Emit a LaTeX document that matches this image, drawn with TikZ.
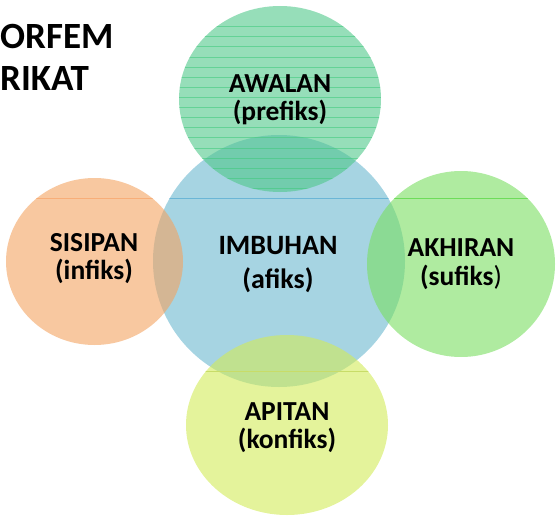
\documentclass[tikz,border=0pt]{standalone}
\usepackage{fontspec}
\setmainfont{Carlito}
\definecolor{cblue}{HTML}{A6D4E2}
\definecolor{cmint}{HTML}{50C88A}
\definecolor{cmintline}{HTML}{43CA7F}
\definecolor{cgreen}{HTML}{7ADE61}
\definecolor{corange}{HTML}{F3A361}
\definecolor{cyellow}{HTML}{D2EB58}
\definecolor{lblue}{HTML}{6BB6D6}
\definecolor{lgreen}{HTML}{6EDC5A}
\definecolor{lorange}{HTML}{F8AE78}
\definecolor{lyellow}{HTML}{C8DC68}
\tikzset{
  bubble/.style={fill opacity=0.6, draw=none},
  lbl/.style={align=center, inner sep=0pt, font=\fontsize{27.5}{28.5}\selectfont\bfseries},
  ttl/.style={anchor=base west, inner sep=0pt, font=\fontsize{37}{44}\selectfont\bfseries},
  chord/.style={line width=0.8pt}
}
\begin{document}
\begin{tikzpicture}[x=1pt,y=-1pt]
\useasboundingbox (0,0) rectangle (556,516);
% centre circle
\fill[cblue] (279,261) circle [radius=126];
\begin{scope}
  \clip (279,261) circle [radius=126];
  \draw[chord, draw=lblue] (150,198) -- (410,198);
\end{scope}
% top circle
\fill[cmint, bubble] (280,99) ellipse [x radius=101, y radius=93];
\begin{scope}
  \clip (280,99) ellipse [x radius=101, y radius=93];
  \foreach \k in {0,...,16} {
    \draw[cmintline, line width=0.8pt, opacity=0.6] (170,26.7+10.1*\k) -- (390,26.7+10.1*\k);
  }
\end{scope}
% left circle
\fill[corange, bubble] (94.5,261.5) ellipse [x radius=88.5, y radius=83.5];
\begin{scope}
  \clip (94.5,261.5) ellipse [x radius=88.5, y radius=83.5];
  \draw[chord, draw=lorange] (0,198) -- (190,198);
\end{scope}
% right circle
\fill[cgreen, bubble] (461,264) ellipse [x radius=94, y radius=93];
\begin{scope}
  \clip (461,264) ellipse [x radius=94, y radius=93];
  \draw[chord, draw=lgreen] (360,198) -- (556,198);
\end{scope}
% bottom circle
\fill[cyellow, bubble] (287,425) ellipse [x radius=101, y radius=90];
\begin{scope}
  \clip (287,425) ellipse [x radius=101, y radius=90];
  \draw[chord, draw=lyellow] (180,371) -- (400,371);
\end{scope}
% labels
\node[lbl] (awalan) at (280,99.5) {AWALAN\\(prefiks)};
\node[lbl] (sisipan) at (94,258.5) {SISIPAN\\(infiks)};
\node[lbl] (akhiran) at (461,264) {AKHIRAN\\(sufiks{\mdseries )}};
\node[lbl] (apitan) at (287,427.5) {APITAN\\(konfiks)};
\node[lbl, font=\fontsize{28}{34}\selectfont\bfseries] (imbuhan) at (278,264.5) {IMBUHAN\\(afiks)};
% title
\node[ttl] (t1) at (0,49) {ORFEM};
\node[ttl] (t2) at (0,91) {RIKAT};
\end{tikzpicture}
\end{document}
